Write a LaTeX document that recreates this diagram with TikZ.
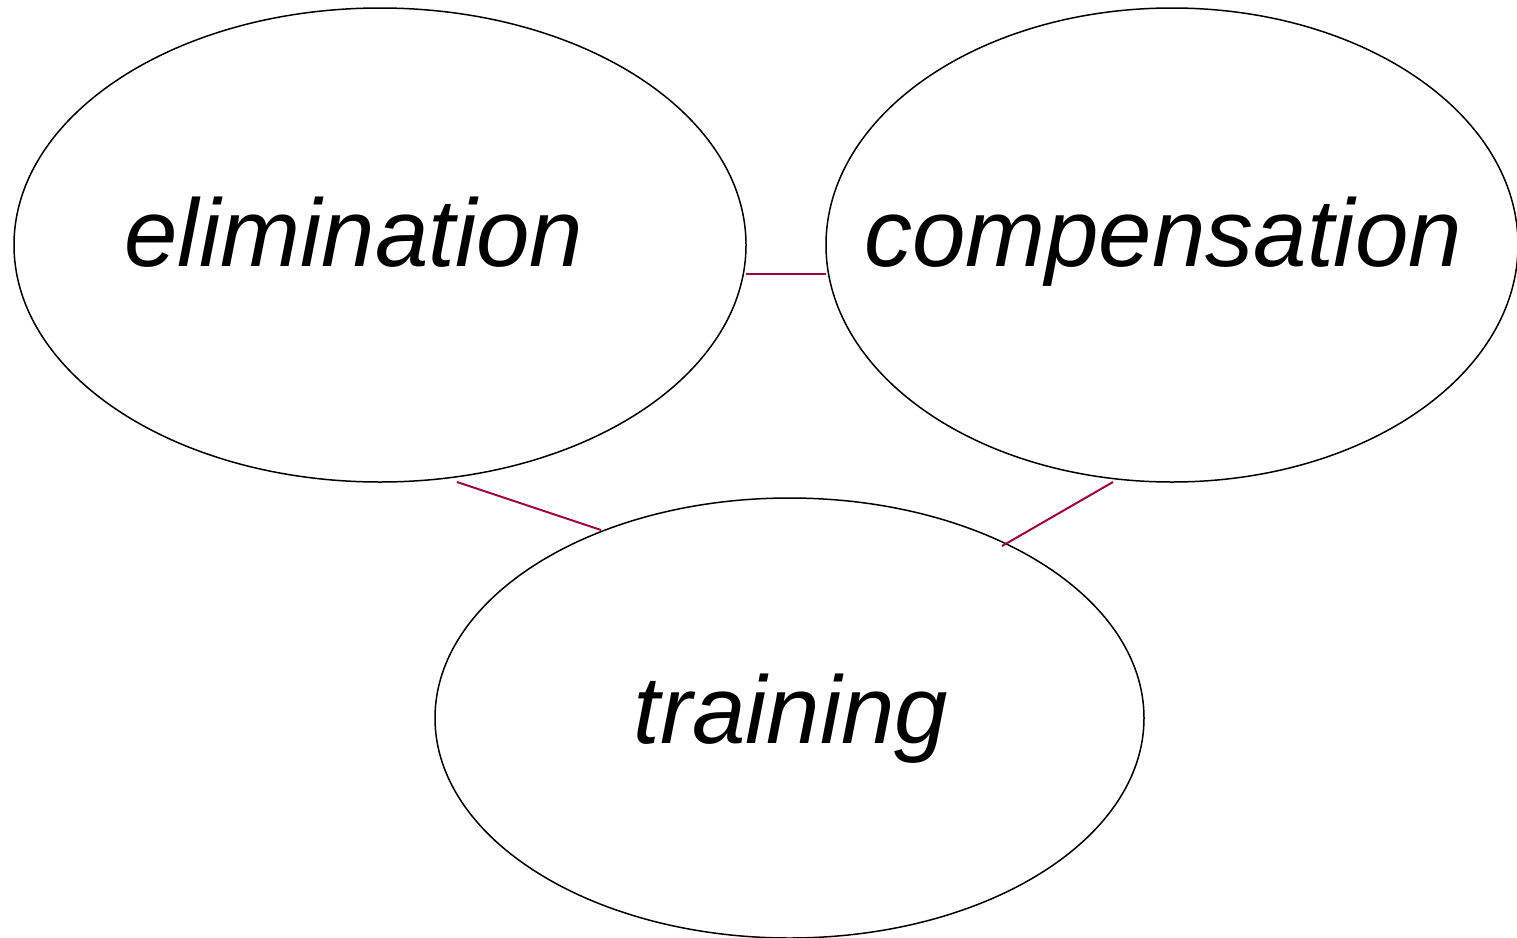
\documentclass[tikz,border=0pt]{standalone}
\usepackage{fontspec}
\setmainfont{Liberation Sans}
\usetikzlibrary{shapes.geometric}
\definecolor{linkred}{HTML}{A0003A}
\begin{document}
\begin{tikzpicture}[x=1pt,y=-1pt,
  blob/.style={draw=black,line width=1.5pt,ellipse,inner sep=0pt},
  word/.style={anchor=base,inner sep=0pt,font=\fontsize{96}{110}\selectfont\itshape},
  link/.style={draw=linkred,line width=2pt}]
  \useasboundingbox (0,0) rectangle (1517,937);
  % the three fields
  \node[blob,minimum width=732pt,minimum height=474pt] (elim) at (380,245) {};
  \node[blob,minimum width=692pt,minimum height=474pt] (comp) at (1172,245) {};
  \node[blob,minimum width=709pt,minimum height=440pt] (train) at (789.5,718) {};
  % labels
  \node[word] (elimtext) at (354,266) {elimination};
  \node[word] (comptext) at (1163,266) {compensation};
  \node[word] (traintext) at (791,743) {training};
  % link end points on the borders
  \coordinate (e1) at (746,274);
  \coordinate (c1) at (826,274);
  \coordinate (e2) at (457,482);
  \coordinate (t2) at (601,530);
  \coordinate (c3) at (1113,482);
  \coordinate (t3) at (1002,546);
  \draw[link] (e1) -- (c1);
  \draw[link] (e2) -- (t2);
  \draw[link] (c3) -- (t3);
\end{tikzpicture}
\end{document}
